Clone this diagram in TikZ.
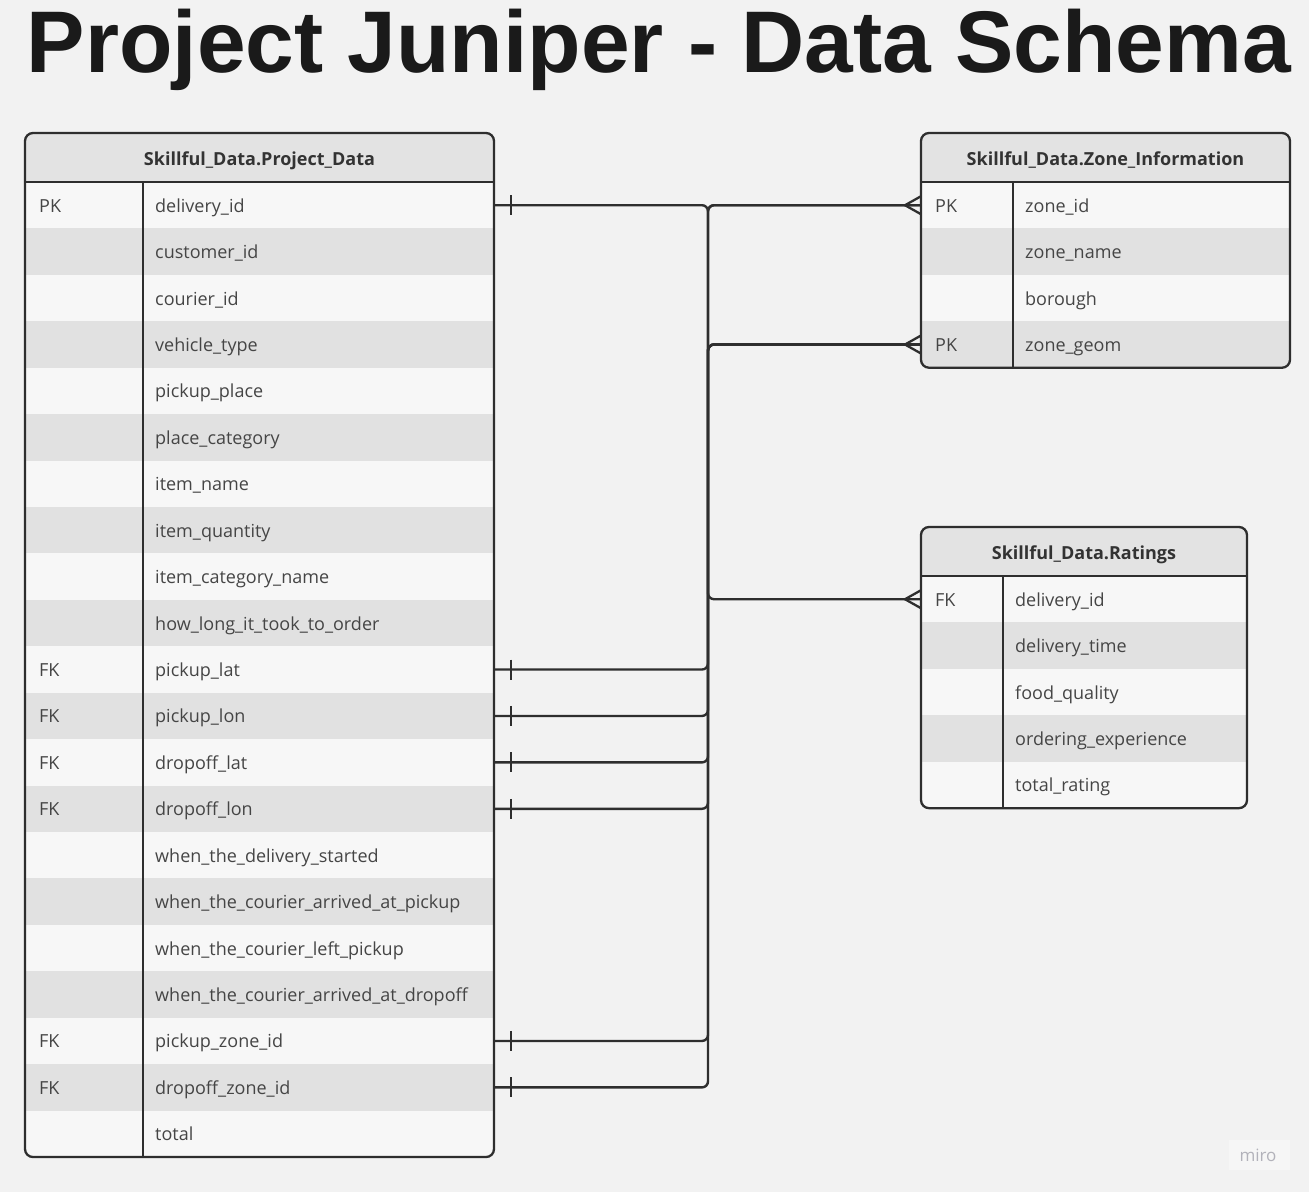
\documentclass[tikz,border=0pt]{standalone}
\usepackage{fontspec}
\setmainfont{Open Sans}
\newfontfamily\titlefont{Liberation Sans}
\definecolor{bg}{HTML}{F2F2F2}
\definecolor{rowA}{HTML}{F7F7F7}
\definecolor{rowB}{HTML}{E1E1E1}
\definecolor{hdrfill}{HTML}{E3E3E3}
\definecolor{linecol}{HTML}{2E2E2E}
\definecolor{txtcol}{HTML}{454545}
\definecolor{hdrtxt}{HTML}{333333}
\definecolor{titlecol}{HTML}{1A1A1A}
\definecolor{mirotxt}{HTML}{B2B2BA}
\definecolor{mirobox}{HTML}{F6F6F6}
\tikzset{
  tbl/.style={draw=linecol, line width=2.3pt},
  conn/.style={draw=linecol, line width=2.4pt, rounded corners=6pt},
  rowcell/.style={inner sep=0pt, outer sep=0pt},
  keytxt/.style={anchor=base west, inner sep=0pt, text=txtcol, font=\fontsize{18}{21}\selectfont},
  fieldtxt/.style={anchor=base west, inner sep=0pt, text=txtcol, font=\fontsize{18}{21}\selectfont},
  hdrtext/.style={anchor=base, inner sep=0pt, text=hdrtxt, font=\bfseries\fontsize{18}{21}\selectfont},
}
% #1 name, #2 L, #3 R, #4 divider, #5 top, #6 nrows, #7 title, #8 rows
\newcommand{\ertable}[8]{%
  \pgfmathsetmacro{\ertb}{#5+49+#6*46.43}%
  \begin{scope}
    \clip[rounded corners=8pt] (#2,#5) rectangle (#3,\ertb);
    \fill[hdrfill] (#2,#5) rectangle (#3,#5+49);
    \foreach \k/\f [count=\i] in {#8} {
      \pgfmathsetmacro{\eryc}{#5+49+(\i-0.5)*46.43}
      \ifodd\i \def\errc{rowA}\else\def\errc{rowB}\fi
      \node[rowcell, fill=\errc, minimum width={#3-#2}, minimum height=46.43pt] (#1-\i) at ({(#2+#3)/2},\eryc) {};
      \node[keytxt] (#1-k\i) at (#2+14,\eryc+7) {\k};
      \node[fieldtxt] (#1-f\i) at (#4+12,\eryc+7) {\f};
    }
  \end{scope}
  \node[hdrtext] (#1-title) at ({(#2+#3)/2},#5+32.5) {#7};
  \draw[tbl] (#2,#5+49) -- (#3,#5+49);
  \draw[tbl] (#4,#5+49) -- (#4,\ertb);
  \draw[tbl, rounded corners=8pt] (#2,#5) rectangle (#3,\ertb);
}
\begin{document}
\begin{tikzpicture}[x=1pt,y=-1pt]
\fill[bg] (0,0) rectangle (1309,1192);
\useasboundingbox (0,0) rectangle (1309,1192);

\node[anchor=base, inner sep=0pt, text=titlecol, font=\titlefont\bfseries\fontsize{87.5}{90}\selectfont] (title) at (659,72) {Project Juniper - Data Schema};

\ertable{pd}{25}{494}{143}{133}{21}{Skillful\_Data.Project\_Data}{PK/delivery\_id, /customer\_id, /courier\_id, /vehicle\_type, /pickup\_place, /place\_category, /item\_name, /item\_quantity, /item\_category\_name, /how\_long\_it\_took\_to\_order, FK/pickup\_lat, FK/pickup\_lon, FK/dropoff\_lat, FK/dropoff\_lon, /when\_the\_delivery\_started, /when\_the\_courier\_arrived\_at\_pickup, /when\_the\_courier\_left\_pickup, /when\_the\_courier\_arrived\_at\_dropoff, FK/pickup\_zone\_id, FK/dropoff\_zone\_id, /total}

\ertable{zi}{921}{1290}{1013}{133}{4}{Skillful\_Data.Zone\_Information}{PK/zone\_id, /zone\_name, /borough, PK/zone\_geom}

\ertable{rt}{921}{1247}{1003}{527}{5}{Skillful\_Data.Ratings}{FK/delivery\_id, /delivery\_time, /food\_quality, /ordering\_experience, /total\_rating}

\coordinate (trunk) at (708,600);

% connectors
\draw[conn] (pd-1.east) -| (trunk |- rt-1.west) -- (rt-1.west);
\draw[conn] (pd-19.east) -| (trunk |- zi-1.west) -- (zi-1.west);
\draw[conn] (pd-20.east) -| (trunk |- zi-1.west) -- (zi-1.west);
\foreach \r in {11,12,13,14} {
  \draw[conn] (pd-\r.east) -| (trunk |- zi-4.west) -- (zi-4.west);
}

% one-markers
\foreach \r in {1,11,12,13,14,19,20} {
  \draw[tbl] ([xshift=17pt,yshift=10pt]pd-\r.east) -- ([xshift=17pt,yshift=-10pt]pd-\r.east);
}
% crow's feet
\foreach \n in {zi-1,zi-4,rt-1} {
  \draw[tbl] ([yshift=9pt]\n.west) -- ([xshift=-16pt]\n.west) -- ([yshift=-9pt]\n.west);
}

% miro mark
\fill[mirobox] (1229,1140) rectangle (1290,1170);
\node[inner sep=0pt, text=mirotxt, font=\fontsize{17}{17}\selectfont] (miro) at (1258,1155) {miro};
\end{tikzpicture}
\end{document}
